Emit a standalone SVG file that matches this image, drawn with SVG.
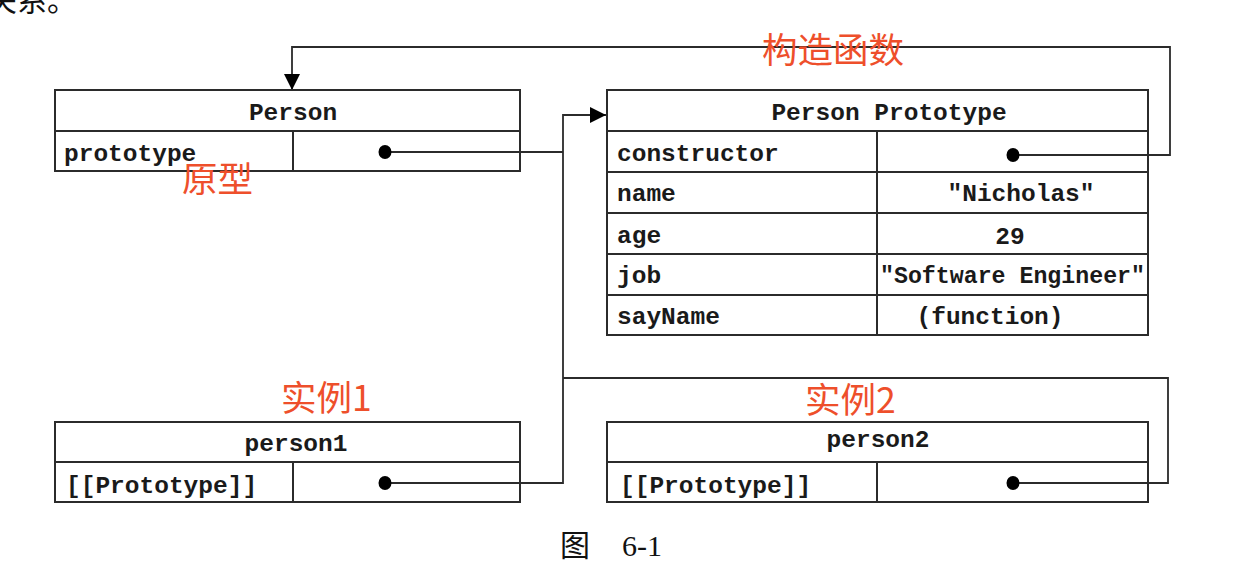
<svg xmlns="http://www.w3.org/2000/svg" width="1240" height="588" viewBox="0 0 1240 588">
<defs>
<style>
.box{fill:none;stroke:#2b2b2b;stroke-width:2}
.ln{fill:none;stroke:#2b2b2b;stroke-width:1.8}
.mono{font-family:"Liberation Mono","Courier New",monospace;font-weight:bold;font-size:24.5px;fill:#1a1a1a}
.red{font-family:"Noto Sans CJK SC","Noto Sans",sans-serif;font-size:35.5px;fill:#ee4f2b}
.cap{font-family:"Liberation Serif","Noto Sans CJK SC",serif;font-size:30px;fill:#111}
.dot{fill:#000}
</style>
<marker id="arr" viewBox="0 0 10 10" refX="10" refY="5" markerWidth="16" markerHeight="16" markerUnits="userSpaceOnUse" orient="auto">
<path d="M0,0 L10,5 L0,10 Z" fill="#000"/>
</marker>
</defs>
<rect width="1240" height="588" fill="#fff"/>
<text class="cap" x="-13" y="11">关系。</text>

<g id="connectors">
<path class="ln" d="M1013,155 H1170 V47 H292 V90" marker-end="url(#arr)"/>
<path class="ln" d="M385,152 H563"/>
<path class="ln" d="M385,483 H563 V115 H606" marker-end="url(#arr)"/>
<path class="ln" d="M1013,483 H1168 V378 H563"/>
<ellipse class="dot" cx="385" cy="152" rx="6.5" ry="7"/>
<ellipse class="dot" cx="1013" cy="155" rx="6.5" ry="7"/>
<ellipse class="dot" cx="385" cy="483" rx="6.5" ry="7"/>
<ellipse class="dot" cx="1013" cy="483" rx="6.5" ry="7"/>
</g>

<g id="person">
<rect class="box" x="55" y="90" width="465" height="81"/>
<path class="box" d="M55,131 H520 M293,131 V171"/>
<text class="mono" x="293" y="120" text-anchor="middle">Person</text>
<text class="mono" x="64" y="161">prototype</text>
</g>

<g id="person-prototype">
<rect class="box" x="607" y="90" width="541" height="245"/>
<path class="box" d="M607,131 H1148 M607,172 H1148 M607,213 H1148 M607,254 H1148 M607,295 H1148 M877,131 V335"/>
<text class="mono" x="889" y="120" text-anchor="middle">Person Prototype</text>
<text class="mono" x="617" y="161">constructor</text>
<text class="mono" x="617" y="201">name</text>
<text class="mono" x="1021" y="201" text-anchor="middle">"Nicholas"</text>
<text class="mono" x="617" y="243">age</text>
<text class="mono" x="1010" y="244" text-anchor="middle">29</text>
<text class="mono" x="617" y="283">job</text>
<text class="mono" x="880" y="283" textLength="265" lengthAdjust="spacingAndGlyphs">"Software Engineer"</text>
<text class="mono" x="617" y="324">sayName</text>
<text class="mono" x="990" y="324" text-anchor="middle">(function)</text>
</g>

<g id="person1">
<rect class="box" x="55" y="422" width="465" height="80"/>
<path class="box" d="M55,462 H520 M293,462 V502"/>
<text class="mono" x="296" y="451" text-anchor="middle">person1</text>
<text class="mono" x="66" y="493">[[Prototype]]</text>
</g>

<g id="person2">
<rect class="box" x="607" y="422" width="541" height="80"/>
<path class="box" d="M607,462 H1148 M877,462 V502"/>
<text class="mono" x="878" y="447" text-anchor="middle">person2</text>
<text class="mono" x="620" y="493">[[Prototype]]</text>
</g>

<g id="labels">
<text class="red" x="762" y="63">构造函数</text>
<text class="red" x="182" y="192">原型</text>
<text class="red" x="281" y="411">实例1</text>
<text class="red" x="805" y="413">实例2</text>
</g>

<text class="cap" y="556"><tspan x="560">图</tspan><tspan x="622">6-1</tspan></text>
</svg>
